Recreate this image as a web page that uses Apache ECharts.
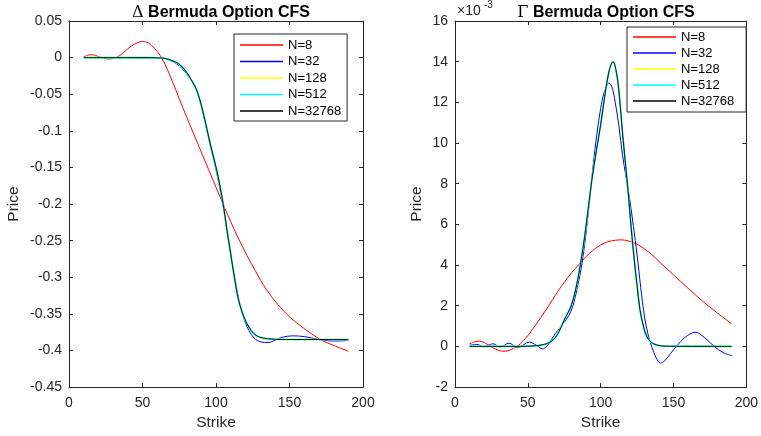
<!DOCTYPE html>
<html lang="en">
  <head>
    <meta charset="UTF-8" />
    <script src="https://cdn.jsdelivr.net/npm/echarts@6/dist/echarts.min.js"></script>
    <title>Bermuda Option CFS</title>
    <style>
      html, body { margin: 0; padding: 0; background: #fff; }
      #app { width: 761px; height: 436px; }
    </style>
  </head>
  <body>
    <div id="app"></div>
    <script>
      const legendNames = ["N=8", "N=32", "N=128", "N=512", "N=32768"];
      const lineColors = ["#ff0000", "#0000ff", "#ffff00", "#00ffff", "#000000"];
      const xTicks = { min: 0, max: 200, interval: 50 };

      // Delta (left)
      const deltaK8 = [10, 12.5, 15, 18, 22, 27, 32, 36, 40, 45, 50, 54, 58, 62, 66, 70, 80, 90, 100, 105, 110, 115, 121, 127, 134, 142, 150, 160, 171, 180, 190];
      const delta8 = [0.001, 0.003, 0.004, 0.003, 0.0, -0.002, 0.0, 0.005, 0.012, 0.019, 0.022, 0.02, 0.013, 0.003, -0.012, -0.031, -0.081, -0.129, -0.177, -0.201, -0.224, -0.246, -0.27, -0.292, -0.316, -0.337, -0.354, -0.37, -0.385, -0.393, -0.401];
      const deltaK32 = [10, 30, 50, 60, 65, 70, 75, 80, 84, 87, 90, 93, 96, 99, 102, 105, 107.5, 110, 112.5, 115, 118, 121, 124, 127, 130, 133, 136, 140, 145, 152, 160, 170, 178, 184, 190];
      const delta32 = [0, 0, -0.0005, 0, -0.001, -0.005, -0.011, -0.022, -0.034, -0.046, -0.066, -0.092, -0.119, -0.144, -0.172, -0.204, -0.237, -0.268, -0.298, -0.326, -0.35, -0.367, -0.378, -0.385, -0.388, -0.389, -0.389, -0.386, -0.382, -0.38, -0.381, -0.385, -0.387, -0.387, -0.386];
      // N=128, 512, 32768 lie on top of each other
      const deltaKConv = [10, 40, 55, 60, 65, 70, 75, 80, 84, 87, 90, 93, 96, 99, 102, 105, 107.5, 110, 112.5, 115, 118, 121, 124, 127, 130, 135, 145, 190];
      const deltaConv = [0, 0, 0, -0.0003, -0.001, -0.004, -0.009, -0.02, -0.033, -0.045, -0.065, -0.09, -0.117, -0.141, -0.168, -0.201, -0.236, -0.268, -0.3, -0.328, -0.349, -0.363, -0.373, -0.379, -0.382, -0.384, -0.385, -0.385];

      // Gamma (right), in units of 1e-3
      const gammaK8 = [10, 13, 17, 21, 25, 29, 33, 37, 40, 43, 47, 51, 55, 59, 63, 67, 71, 75, 80, 85, 90, 95, 100, 105, 110, 114, 120, 125, 130, 135, 140, 150, 160, 170, 180, 190];
      const gamma8 = [0.12, 0.22, 0.26, 0.15, -0.02, -0.17, -0.24, -0.2, -0.1, 0.02, 0.28, 0.62, 1.02, 1.43, 1.86, 2.3, 2.74, 3.15, 3.62, 4.03, 4.42, 4.74, 4.99, 5.15, 5.22, 5.24, 5.17, 5.02, 4.8, 4.52, 4.18, 3.52, 2.86, 2.22, 1.65, 1.1];
      const gammaK32 = [10, 15, 20, 26, 31, 37, 43, 51, 56, 60, 63, 66, 69, 72, 75, 78, 81, 84, 87, 90, 92.5, 95, 97.5, 100, 102.5, 105.7, 108, 110, 112.5, 115, 117.5, 120, 122.5, 125, 127.5, 130, 132.5, 135, 138, 141, 144, 148, 152, 158, 165, 171, 178, 184, 190];
      const gamma32 = [0.05, 0.1, -0.02, 0.13, -0.03, 0.16, -0.06, 0.21, 0.05, -0.12, 0.0, 0.3, 0.65, 0.9, 1.2, 1.5, 2.0, 2.9, 4.0, 5.6, 7.3, 9.0, 10.5, 11.7, 12.5, 12.96, 12.7, 12.0, 10.85, 9.4, 8.3, 7.2, 5.9, 4.5, 2.9, 1.5, 0.6, 0.0, -0.55, -0.82, -0.7, -0.35, 0.0, 0.45, 0.7, 0.45, 0.0, -0.3, -0.45];
      const gammaKConv = [10, 40, 50, 55, 60, 65, 70, 75, 80, 84, 88, 91, 94, 97, 100, 103, 106, 108.5, 111, 113, 115, 117, 119, 121, 123, 125, 127, 129, 131, 134, 138, 145, 190];
      const gammaConv = [0, 0, 0.01, 0.03, 0.08, 0.2, 0.55, 1.3, 2.05, 3.2, 4.9, 6.5, 8.2, 9.6, 10.9, 12.4, 13.6, 14.0, 13.4, 12.2, 10.5, 9.0, 7.5, 5.8, 4.3, 3.0, 1.8, 1.1, 0.6, 0.25, 0.08, 0.01, 0];

      const deltaSets = [[deltaK8, delta8], [deltaK32, delta32], [deltaKConv, deltaConv], [deltaKConv, deltaConv], [deltaKConv, deltaConv]];
      const gammaSets = [[gammaK8, gamma8], [gammaK32, gamma32], [gammaKConv, gammaConv], [gammaKConv, gammaConv], [gammaKConv, gammaConv]];

      const font = "Liberation Sans, Arial, Helvetica, sans-serif";
      const ink = "#262626";

      function pairs(k, v) {
        return k.map((x, i) => [x, v[i]]);
      }

      function boxAxis(grid, pos, extra) {
        const main = pos === "bottom" || pos === "left";
        return Object.assign({
          gridIndex: grid,
          type: "value",
          position: pos,
          axisLine: { show: true, onZero: false, lineStyle: { color: ink, width: 1 } },
          axisTick: { show: true, inside: true, length: 4, lineStyle: { color: ink } },
          axisLabel: { show: main, color: ink, fontSize: 14, fontFamily: font },
          splitLine: { show: false },
          nameTextStyle: { color: ink, fontSize: 15.5, fontFamily: font },
        }, extra);
      }

      const xAxis = [
        boxAxis(0, "bottom", Object.assign({ name: "Strike", nameLocation: "middle", nameGap: 27 }, xTicks, { axisLabel: { color: ink, fontSize: 14, fontFamily: font, margin: 9 } })),
        boxAxis(0, "top", Object.assign({}, xTicks)),
        boxAxis(1, "bottom", Object.assign({ name: "Strike", nameLocation: "middle", nameGap: 27 }, xTicks, { axisLabel: { color: ink, fontSize: 14, fontFamily: font, margin: 9 } })),
        boxAxis(1, "top", Object.assign({}, xTicks)),
      ];
      const yAxis = [
        boxAxis(0, "left", { min: -0.45, max: 0.05, interval: 0.05, name: "Price", nameLocation: "middle", nameGap: 47, axisLabel: { color: ink, fontSize: 14, fontFamily: font, margin: 7 } }),
        boxAxis(0, "right", { min: -0.45, max: 0.05, interval: 0.05 }),
        boxAxis(1, "left", { min: -2, max: 16, interval: 2, name: "Price", nameLocation: "middle", nameGap: 30, axisLabel: { color: ink, fontSize: 14, fontFamily: font, margin: 7 } }),
        boxAxis(1, "right", { min: -2, max: 16, interval: 2 }),
      ];

      const series = [];
      [deltaSets, gammaSets].forEach((sets, g) => {
        sets.forEach(([k, v], i) => {
          const black = i === 4;
          const pale = i === 2 || i === 3;
          series.push({
            name: legendNames[i],
            type: "line",
            xAxisIndex: g * 2,
            yAxisIndex: g * 2,
            data: pairs(k, v),
            smooth: 0.35,
            symbol: "none",
            lineStyle: { color: lineColors[i], width: pale ? 1.6 : 1, opacity: black ? 0.9 : 1 },
            itemStyle: { color: lineColors[i] },
            z: 2 + i,
          });
        });
      });

      const legendBase = {
        orient: "vertical",
        data: legendNames,
        icon: "rect",
        itemWidth: 43,
        itemHeight: 1.3,
        borderColor: ink,
        borderWidth: 1,
        backgroundColor: "#fff",
        textStyle: { color: "#000", fontSize: 13, lineHeight: 14, fontFamily: font },
        selectedMode: false,
      };

      const titleStyle = {
        fontSize: 16, fontWeight: "bold", color: "#000", fontFamily: font,
        rich: { g: { fontFamily: "DejaVu Serif", fontWeight: "normal", fontSize: 16, color: "#000" } },
      };

      const chart = echarts.init(document.getElementById("app"));
      chart.setOption({
        animation: false,
        backgroundColor: "#fff",
        title: [
          { text: "{g|Δ} Bermuda Option CFS", left: 216, top: 0, textAlign: "center", textStyle: titleStyle },
          { text: "{g|Γ} Bermuda Option CFS", left: 601, top: 0, textAlign: "center", textStyle: titleStyle },
        ],
        grid: [
          { left: 69, top: 21, width: 294, height: 370 },
          { left: 455, top: 21, width: 293, height: 369 },
        ],
        legend: [
          Object.assign({}, legendBase, { left: 234, top: 34, itemGap: 2.5, padding: [4, 6, 3, 6] }),
          Object.assign({}, legendBase, { left: 627, top: 27, itemGap: 2, padding: [3, 12, 4, 6] }),
        ],
        graphic: [
          { type: "text", left: 457, top: 4, style: { text: "×10", fontSize: 14, fontFamily: font, fill: ink } },
          { type: "text", left: 484, top: 0, style: { text: "-3", fontSize: 10, fontFamily: font, fill: ink } },
        ],
        xAxis: xAxis,
        yAxis: yAxis,
        series: series,
      });
    </script>
  </body>
</html>
